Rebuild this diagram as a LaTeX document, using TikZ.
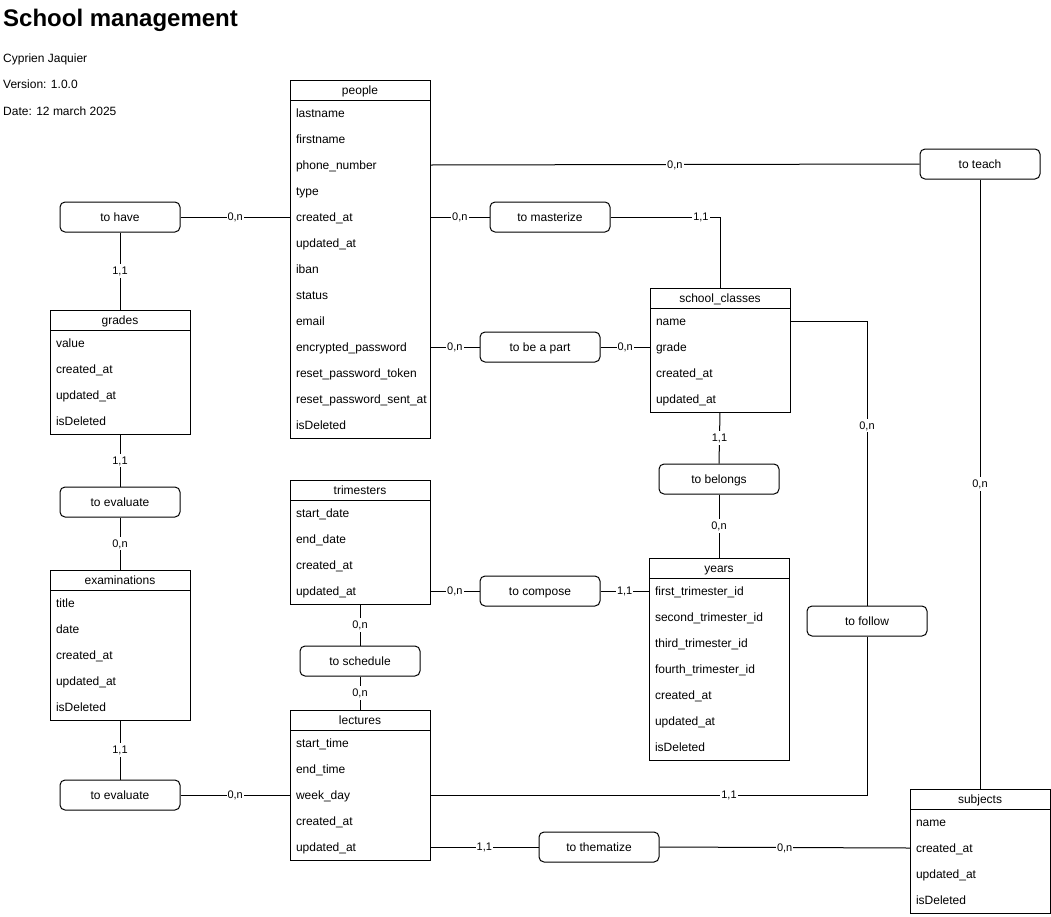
\documentclass[tikz,border=0pt]{standalone}
\usepackage{fontspec}
\setmainfont{Liberation Sans}
\newcommand\erentity[6]{%
  \node[hdr] (#1) at (#2+70,#3+10) {#5};
  \foreach \r [count=\i] in {#6} {
    \node[row] (#1-\i) at (#2+70,#3+7+26*\i) {\mbox{\r}};
  }
  \draw[line width=1pt] (#2,#3+20) rectangle (#2+140,#3+20+26*#4);
}
\begin{document}
\begin{tikzpicture}[x=1pt,y=-1pt,
  hdr/.style={draw, line width=1pt, minimum width=140pt, minimum height=20pt, inner sep=0pt, text height=11pt, text depth=2.4pt, font=\fontsize{12}{14}\selectfont},
  row/.style={text width=128pt, align=left, inner xsep=6pt, inner ysep=0pt, minimum height=26pt, text height=11pt, text depth=2.4pt, font=\fontsize{12}{14}\selectfont},
  rel/.style={draw, line width=1pt, rounded corners=5pt, minimum width=120pt, minimum height=30pt, inner sep=0pt, text height=11pt, text depth=2.4pt, font=\fontsize{12}{14}\selectfont},
  card/.style={fill=white, inner sep=1pt, text height=9.5pt, text depth=1.8pt, font=\fontsize{11}{13}\selectfont},
  conn/.style={draw, line width=1pt},
  info/.style={anchor=west, inner sep=0pt, text height=11pt, text depth=2.4pt, font=\fontsize{12}{14}\selectfont}]
\useasboundingbox (0,0) rectangle (1051,916);

\node[anchor=west, inner sep=0pt, font=\bfseries\fontsize{24}{28}\selectfont] (title) at (3,20) {School management};
\node[info] (author) at (3,58) {Cyprien Jaquier};
\node[info] (version) at (3,84) {Version: 1.0.0};
\node[info] (date) at (3,111) {Date: 12 march 2025};

\erentity{people}{290}{80}{13}{people}{lastname,firstname,phone\_number,type,created\_at,updated\_at,iban,status,email,encrypted\_password,reset\_password\_token,reset\_password\_sent\_at,isDeleted}
\erentity{grades}{50}{310}{4}{grades}{value,created\_at,updated\_at,isDeleted}
\erentity{exams}{50}{570}{5}{examinations}{title,date,created\_at,updated\_at,isDeleted}
\erentity{trim}{290}{480}{4}{trimesters}{start\_date,end\_date,created\_at,updated\_at}
\erentity{lect}{290}{710}{5}{lectures}{start\_time,end\_time,week\_day,created\_at,updated\_at}
\erentity{sc}{650}{288}{4}{school\_classes}{name,grade,created\_at,updated\_at}
\erentity{years}{649}{558}{7}{years}{first\_trimester\_id,second\_trimester\_id,third\_trimester\_id,fourth\_trimester\_id,created\_at,updated\_at,isDeleted}
\erentity{subj}{910}{789}{4}{subjects}{name,created\_at,updated\_at,isDeleted}

\node[rel] (teach) at (980,164) {to teach};
\node[rel] (have) at (120,217) {to have};
\node[rel] (master) at (550,217) {to masterize};
\node[rel] (part) at (540,347) {to be a part};
\node[rel] (belongs) at (719,479) {to belongs};
\node[rel] (eval1) at (120,502) {to evaluate};
\node[rel] (compose) at (540,591) {to compose};
\node[rel] (follow) at (867,621) {to follow};
\node[rel] (sched) at (360,661) {to schedule};
\node[rel] (eval2) at (120,795) {to evaluate};
\node[rel] (thema) at (599,847) {to thematize};

\draw[conn] (people-3.east) -- node[card]{0,n} (teach.west);
\draw[conn] (teach.south) -- node[card]{0,n} (subj.north);
\draw[conn] (have.east) -- node[card]{0,n} (people-5.west);
\draw[conn] (have.south) -- node[card]{1,1} (grades.north);
\draw[conn] (people-5.east) -- node[card]{0,n} (master.west);
\draw[conn] (master.east) -| node[card, pos=0.413]{1,1} (sc.north);
\draw[conn] (people-10.east) -- node[card]{0,n} (part.west);
\draw[conn] (part.east) -- node[card]{0,n} (sc-2.west);
\draw[conn] (sc-4.south) -- node[card]{1,1} (belongs.north);
\draw[conn] (belongs.south) -- node[card]{0,n} (years.north);
\draw[conn] (grades-4.south) -- node[card]{1,1} (eval1.north);
\draw[conn] (eval1.south) -- node[card]{0,n} (exams.north);
\draw[conn] (trim-4.east) -- node[card]{0,n} (compose.west);
\draw[conn] (compose.east) -- node[card]{1,1} (years-1.west);
\draw[conn] (sc-1.east) -| node[card, pos=0.684]{0,n} (follow.north);
\draw[conn] (follow.south) |- node[card, pos=0.658]{1,1} (lect-3.east);
\draw[conn] (trim-4.south) -- node[card]{0,n} (sched.north);
\draw[conn] (sched.south) -- node[card]{0,n} (lect.north);
\draw[conn] (exams-5.south) -- node[card]{1,1} (eval2.north);
\draw[conn] (eval2.east) -- node[card]{0,n} (lect-3.west);
\draw[conn] (lect-5.east) -- node[card, pos=0.5]{1,1} (thema.west);
\draw[conn] (thema.east) -- node[card]{0,n} (subj-2.west);
\end{tikzpicture}
\end{document}
